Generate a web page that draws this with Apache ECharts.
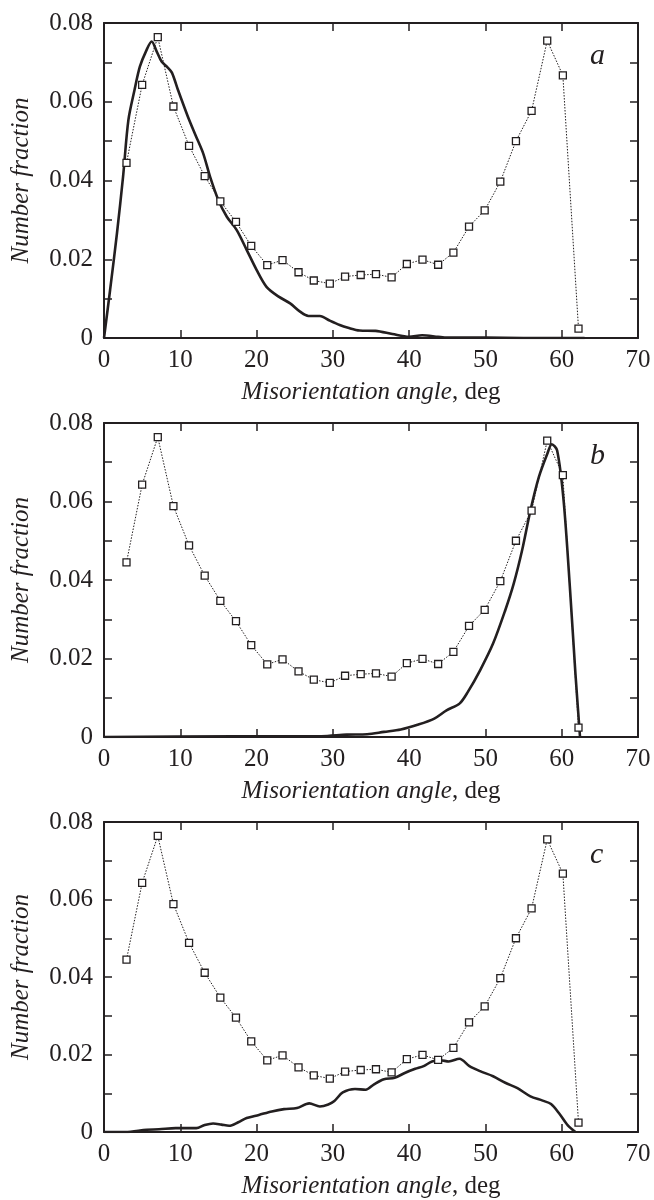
<!DOCTYPE html>
<html>
<head>
<meta charset="utf-8">
<script src="https://cdn.jsdelivr.net/npm/echarts@6/dist/echarts.min.js"></script>
<style>
  html, body { margin: 0; padding: 0; background: #fff; }
  #chart { width: 654px; height: 1200px; }
</style>
</head>
<body>
<div id="chart"></div>
<script>
// square markers (same reference distribution in all three panels)
const markerAngles = [2.95, 5.0, 7.05, 9.1, 11.15, 13.2, 15.25, 17.3, 19.3, 21.4, 23.4, 25.5, 27.5, 29.6, 31.6,
  33.65, 35.65, 37.7, 39.7, 41.75, 43.8, 45.8, 47.85, 49.9, 51.95, 54.0, 56.05, 58.1, 60.15, 62.2];
const markerFractions = [0.0445, 0.0643, 0.0764, 0.0588, 0.0488, 0.0411, 0.0347, 0.0295, 0.0234, 0.0185, 0.0198,
  0.0167, 0.0146, 0.0138, 0.0156, 0.0160, 0.0162, 0.0154, 0.0188, 0.0199, 0.0186, 0.0217, 0.0283, 0.0324,
  0.0397, 0.0500, 0.0577, 0.0755, 0.0667, 0.0024];

// solid curve, panel a
const curveAAngles = [0, 0.8, 1.7, 2.5, 3.2, 4.0, 4.7, 5.5, 6.25, 6.9, 7.55, 8.3, 8.9, 9.7, 11.0, 12.0, 13.0, 13.9,
  15.0, 16.1, 17.4, 18.7, 20.0, 21.3, 22.9, 24.4, 25.7, 26.8, 28.3, 29.6, 30.9, 32.0, 33.5, 35.6, 37.8, 40.0,
  41.7, 43.8, 45.0, 50, 55, 63];
const curveAFractions = [0, 0.0122, 0.0266, 0.041, 0.0554, 0.063, 0.0689, 0.0728, 0.0753, 0.0728, 0.0702, 0.0688,
  0.0674, 0.063, 0.0562, 0.0515, 0.0469, 0.041, 0.035, 0.0308, 0.0274, 0.0224, 0.0173, 0.013, 0.0105, 0.0088,
  0.0067, 0.0056, 0.0056, 0.0044, 0.0033, 0.0026, 0.0019, 0.0018, 0.001, 0.0003, 0.0007, 0.0003, 0.0001, 0.0001,
  0, 0];

// solid curve, panel b
const curveBAngles = [0, 17, 28.5, 31.8, 34.5, 36.7, 38.9, 41.1, 43.3, 44.9, 46.6, 47.7, 49.3, 51.0, 52.6, 53.7,
  54.8, 55.9, 57.0, 58.1, 58.7, 59.4, 60.25, 61.1, 61.8, 62.4];
const curveBFractions = [0, 0.0002, 0.0002, 0.0006, 0.0007, 0.0013, 0.0019, 0.0031, 0.0047, 0.0068, 0.0085, 0.0115,
  0.017, 0.0238, 0.0323, 0.039, 0.0475, 0.0577, 0.0662, 0.0721, 0.0746, 0.073, 0.0602, 0.0373, 0.0161, 0];

// solid curve, panel c
const curveCAngles = [0, 2.8, 5.6, 7.2, 9.4, 12.1, 13.2, 14.3, 15.4, 16.4, 17.6, 18.7, 20.3, 22.0, 23.6, 25.3, 26.9,
  28.3, 29.4, 30.2, 31.3, 32.9, 34.3, 35.4, 36.7, 38.1, 39.5, 40.8, 41.9, 43.0, 44.1, 45.2, 46.6, 47.9, 49.3,
  51.0, 52.6, 54.2, 55.9, 57.5, 58.6, 59.7, 60.8, 61.8];
const curveCFractions = [0, 0, 0.0006, 0.0007, 0.001, 0.001, 0.0018, 0.0022, 0.0019, 0.0016, 0.0025, 0.0036,
  0.0044, 0.0053, 0.0059, 0.0062, 0.0074, 0.0066, 0.0071, 0.008, 0.0102, 0.0111, 0.0109, 0.0123, 0.0136, 0.014,
  0.0153, 0.0163, 0.017, 0.0182, 0.0185, 0.0182, 0.0189, 0.017, 0.0157, 0.0144, 0.0127, 0.0113, 0.0092, 0.0081,
  0.0072, 0.0047, 0.0017, 0];

const panelLetters = ["a", "b", "c"];
const xTicks = [0, 10, 20, 30, 40, 50, 60, 70];
const yLabelTicks = [0, 0.02, 0.04, 0.06, 0.08];

const zip = (xs, ys) => xs.map((x, i) => [x, ys[i]]);
const curves = [
  zip(curveAAngles, curveAFractions),
  zip(curveBAngles, curveBFractions),
  zip(curveCAngles, curveCFractions),
];
const markers = zip(markerAngles, markerFractions);

const FONT = "'Liberation Serif', 'DejaVu Serif', serif";
const INK = "#231f20";
const tops = [23, 423, 822];
const heights = [315, 314, 315];

const grid = [], xAxis = [], yAxis = [], series = [], graphic = [];

tops.forEach((top, p) => {
  grid.push({ left: 104, top: top, width: 534, height: heights[p] });

  // onZero off, otherwise the mirror axes snap onto the zero lines
  const frame = { show: true, onZero: false, lineStyle: { color: INK, width: 2 } };
  const ticks = { show: true, inside: true, length: 8, lineStyle: { color: INK, width: 1.5 } };

  // bottom axis with labels
  xAxis.push({
    gridIndex: p, type: "value", min: xTicks[0], max: xTicks[xTicks.length - 1], interval: 10,
    axisLine: frame, axisTick: ticks, splitLine: { show: false },
    axisLabel: { color: INK, fontFamily: FONT, fontSize: 25, margin: 10 },
    name: "{i|Misorientation angle}{n|, deg}",
    nameLocation: "middle", nameGap: 42,
    nameTextStyle: {
      rich: {
        i: { fontFamily: FONT, fontSize: 25, fontStyle: "italic", color: INK },
        n: { fontFamily: FONT, fontSize: 25, color: INK },
      },
    },
  });
  // top mirror axis
  xAxis.push({
    gridIndex: p, type: "value", position: "top", min: 0, max: 70, interval: 10,
    axisLine: frame, axisTick: ticks, axisLabel: { show: false }, splitLine: { show: false },
  });
  // left axis with labels
  yAxis.push({
    gridIndex: p, type: "value", min: 0, max: 0.08, interval: 0.01,
    axisLine: frame, axisTick: ticks, splitLine: { show: false },
    axisLabel: {
      color: INK, fontFamily: FONT, fontSize: 25, margin: 11,
      formatter: (v) => {
        const hit = yLabelTicks.find((t) => Math.abs(t - v) < 1e-6);
        if (hit === undefined) return "";
        return hit === 0 ? "0" : hit.toFixed(2);
      },
    },
    name: "Number fraction", nameLocation: "middle", nameRotate: 90, nameGap: 70,
    nameTextStyle: { fontFamily: FONT, fontSize: 25, fontStyle: "italic", color: INK },
  });
  // right mirror axis
  yAxis.push({
    gridIndex: p, type: "value", position: "right", min: 0, max: 0.08, interval: 0.01,
    axisLine: frame, axisTick: ticks, axisLabel: { show: false }, splitLine: { show: false },
  });

  series.push({
    type: "line", xAxisIndex: p * 2, yAxisIndex: p * 2,
    data: curves[p], showSymbol: false, smooth: 0.3,
    lineStyle: { color: INK, width: 2.6 }, z: 2,
  });
  series.push({
    type: "line", xAxisIndex: p * 2, yAxisIndex: p * 2,
    data: markers, symbol: "rect", symbolSize: 7,
    itemStyle: { color: "#fff", borderColor: INK, borderWidth: 1.3 },
    lineStyle: { color: INK, width: 1, type: [1.5, 1.5] }, z: 3,
  });

  graphic.push({
    type: "text", left: 590, top: top + 18,
    style: { text: panelLetters[p], fontFamily: FONT, fontSize: 30, fontStyle: "italic", fill: INK },
  });
});

const myChart = echarts.init(document.getElementById("chart"), null, { renderer: "canvas" });
myChart.setOption({
  backgroundColor: "#fff",
  animation: false,
  grid, xAxis, yAxis, series, graphic,
});
</script>
</body>
</html>
